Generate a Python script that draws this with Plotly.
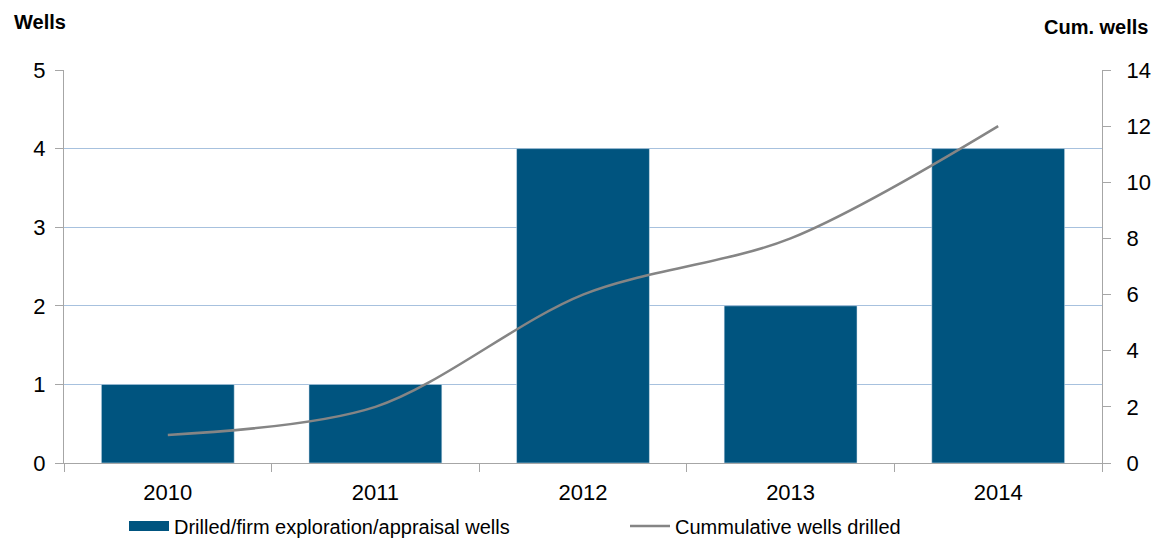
import plotly.graph_objects as go

years = ["2010", "2011", "2012", "2013", "2014"]
wells = [1, 1, 4, 2, 4]
cum_wells = [1, 2, 6, 8, 12]

bar_name = "Drilled/firm exploration/appraisal wells"
line_name = "Cummulative wells drilled"
bar_color = "#00547F"
line_color = "#858585"

W, H = 1154, 539
L, R, T, B = 64, 52, 70, 76
PW, PH = W - L - R, H - T - B

fig = go.Figure()
fig.add_trace(go.Bar(x=years, y=wells, name=bar_name, marker_color=bar_color,
                     width=0.64, yaxis="y", showlegend=False))
# legend-only entry giving the wide rectangular swatch
fig.add_trace(go.Scatter(x=[None], y=[None], name=bar_name, mode="lines",
                         line=dict(color=bar_color, width=12), yaxis="y"))
fig.add_trace(go.Scatter(x=years, y=cum_wells, name=line_name, mode="lines",
                         line=dict(color=line_color, width=2.5, shape="spline", smoothing=0.9),
                         yaxis="y2"))

font = "Liberation Sans, Arial, sans-serif"
fig.update_layout(
    width=W, height=H,
    margin=dict(l=L, r=R, t=T, b=B, autoexpand=False),
    plot_bgcolor="white", paper_bgcolor="white",
    font=dict(family=font, color="#000000"),
    showlegend=True,
    legend=dict(orientation="h", x=(124 - 64) / PW, y=-(526 - 463) / PH,
                xanchor="left", yanchor="middle",
                font=dict(size=20), entrywidth=446, entrywidthmode="pixels",
                itemwidth=40, tracegroupgap=0),
    xaxis=dict(type="category", showline=True, linecolor="#A6A6A6", linewidth=1,
               ticks="outside", tickson="boundaries", ticklen=8, tickcolor="#A6A6A6",
               tickfont=dict(size=22), showgrid=False, ticklabelstandoff=10),
    yaxis=dict(range=[0, 5], dtick=1, showline=True, linecolor="#A6A6A6",
               ticks="outside", ticklen=8, tickcolor="#A6A6A6",
               gridcolor="#A7C1DE", gridwidth=1, zeroline=False,
               tickfont=dict(size=22), ticklabelstandoff=5),
    yaxis2=dict(range=[0, 14], dtick=2, overlaying="y", side="right", showline=True,
                linecolor="#A6A6A6", ticks="outside", ticklen=8, tickcolor="#A6A6A6",
                showgrid=False, zeroline=False, tickfont=dict(size=22),
                ticklabelstandoff=11),
    bargap=0.36,
)

fig.add_annotation(text="<b>Wells</b>", x=(12 - 64) / PW, y=(463 - 22) / PH,
                   xref="paper", yref="paper", xanchor="left", yanchor="middle",
                   showarrow=False, font=dict(size=20))
fig.add_annotation(text="<b>Cum. wells</b>", x=(1150 - 64) / PW, y=(463 - 27) / PH,
                   xref="paper", yref="paper", xanchor="right", yanchor="middle",
                   showarrow=False, font=dict(size=20))

fig.write_html("out.html",
               config={"displayModeBar": False},
               post_script="document.body.style.margin='0';"
                           "document.body.style.overflow='hidden';")
